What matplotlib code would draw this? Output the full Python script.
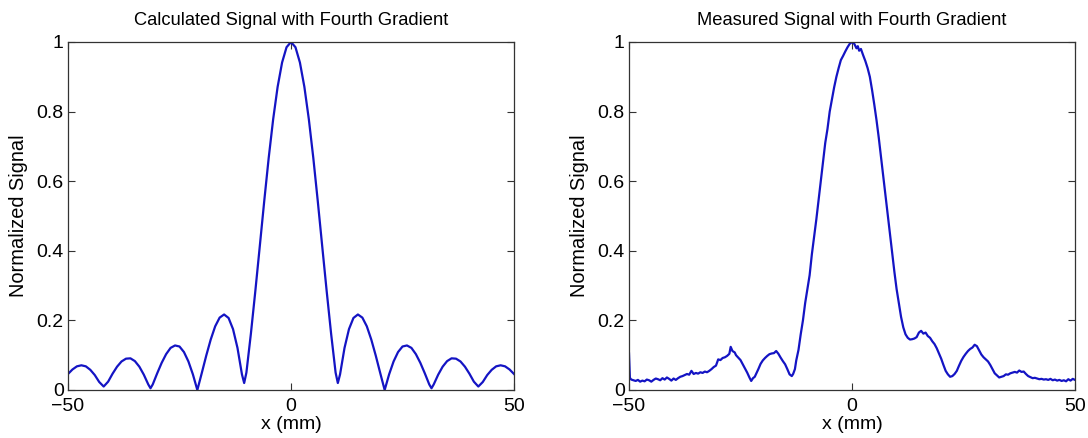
import matplotlib.pyplot as plt
from matplotlib.ticker import FormatStrFormatter

plt.rcParams['font.family'] = ['Liberation Sans', 'DejaVu Sans']

# Calculated profile (x in mm, normalized signal)
calc_x = [-50, -49, -48, -47, -46, -45, -44, -43, -42, -41, -40, -39, -38, -37, -36,
          -35, -34, -33, -32, -31.5, -31, -30, -29, -28, -27, -26, -25, -24, -23, -22,
          -21, -20, -19, -18, -17, -16, -15, -14, -13, -12, -11, -10.5, -10, -9, -8,
          -7, -6, -5, -4, -3, -2, -1, 0, 1, 2, 3, 4, 5, 6, 7, 8, 9, 10, 10.5, 11, 12,
          13, 14, 15, 16, 17, 18, 19, 20, 21, 22, 23, 24, 25, 26, 27, 28, 29, 30, 31,
          31.5, 32, 33, 34, 35, 36, 37, 38, 39, 40, 41, 42, 43, 44, 45, 46, 47, 48,
          49, 50]
calc_y = [0.046, 0.059, 0.068, 0.071, 0.068, 0.058, 0.043, 0.023, 0.010, 0.024,
          0.047, 0.067, 0.082, 0.090, 0.091, 0.083, 0.067, 0.044, 0.016, 0.005,
          0.016, 0.048, 0.078, 0.103, 0.121, 0.128, 0.125, 0.109, 0.082, 0.045,
          0.000, 0.049, 0.099, 0.145, 0.183, 0.208, 0.217, 0.207, 0.175, 0.121,
          0.045, 0.020, 0.050, 0.161, 0.284, 0.413, 0.543, 0.667, 0.778, 0.871,
          0.941, 0.985, 1.000, 0.985, 0.941, 0.871, 0.778, 0.667, 0.543, 0.413,
          0.284, 0.161, 0.050, 0.020, 0.045, 0.121, 0.175, 0.207, 0.217, 0.208,
          0.183, 0.145, 0.099, 0.049, 0.000, 0.045, 0.082, 0.109, 0.125, 0.128,
          0.121, 0.103, 0.078, 0.048, 0.016, 0.005, 0.016, 0.044, 0.067, 0.083,
          0.091, 0.090, 0.082, 0.067, 0.047, 0.024, 0.010, 0.023, 0.043, 0.058,
          0.068, 0.071, 0.068, 0.059, 0.046]

# Measured profile
meas_x = [-50.0, -49.8, -49.5, -49.0, -48.5, -48.0, -47.5, -47.0, -46.5, -46.0,
          -45.5, -45.0, -44.5, -44.0, -43.5, -43.0, -42.5, -42.0, -41.5, -41.0,
          -40.5, -40.0, -39.5, -39.0, -38.5, -38.0, -37.5, -37.0, -36.5, -36.0,
          -35.5, -35.0, -34.5, -34.0, -33.5, -33.0, -32.5, -32.0, -31.5, -31.0,
          -30.5, -30.0, -29.5, -29.0, -28.5, -28.0, -27.5, -27.2, -26.8, -26.3,
          -26.0, -25.5, -25.0, -24.5, -24.0, -23.5, -23.0, -22.6, -22.2, -21.8,
          -21.0, -20.5, -20.0, -19.5, -19.0, -18.5, -18.0, -17.5, -17.0, -16.5,
          -16.0, -15.5, -15.0, -14.5, -14.0, -13.5, -13.2, -12.8, -12.5, -12.0,
          -11.5, -11.0, -10.5, -10.0, -9.5, -9.0, -8.5, -8.0, -7.5, -7.0,
          -6.5, -6.0, -5.5, -5.0, -4.5, -4.0, -3.5, -3.0, -2.5, -2.0,
          -1.5, -1.0, -0.5, 0.0, 0.5, 1.0, 1.3, 1.6, 2.0, 2.5,
          3.0, 3.5, 4.0, 4.5, 5.0, 5.5, 6.0, 6.5, 7.0, 7.5,
          8.0, 8.5, 9.0, 9.5, 10.0, 10.5, 11.0, 11.5, 12.0, 12.5,
          13.0, 13.5, 14.0, 14.5, 15.0, 15.5, 16.0, 16.5, 17.0, 17.5,
          18.0, 18.5, 19.0, 19.5, 20.0, 20.5, 21.0, 21.5, 22.0, 22.5,
          23.0, 23.5, 24.0, 24.5, 25.0, 25.5, 26.0, 26.5, 27.0, 27.5,
          28.0, 28.5, 29.0, 29.5, 30.0, 30.5, 31.0, 31.5, 32.0, 32.5,
          33.0, 33.5, 34.0, 34.5, 35.0, 35.5, 36.0, 36.5, 37.0, 37.5,
          38.0, 38.5, 39.0, 39.5, 40.0, 40.5, 41.0, 41.5, 42.0, 42.5,
          43.0, 43.5, 44.0, 44.5, 45.0, 45.5, 46.0, 46.5, 47.0, 47.5,
          48.0, 48.5, 49.0, 49.5, 50.0]
meas_y = [0.105, 0.035, 0.030, 0.028, 0.026, 0.029, 0.024, 0.027, 0.025, 0.030,
          0.028, 0.024, 0.029, 0.033, 0.031, 0.028, 0.034, 0.030, 0.036, 0.032,
          0.027, 0.033, 0.029, 0.034, 0.038, 0.040, 0.043, 0.046, 0.044, 0.055,
          0.046, 0.049, 0.047, 0.051, 0.049, 0.053, 0.051, 0.055, 0.060, 0.066,
          0.070, 0.088, 0.086, 0.092, 0.094, 0.098, 0.104, 0.124, 0.112, 0.108,
          0.100, 0.093, 0.086, 0.074, 0.062, 0.050, 0.036, 0.026, 0.034, 0.038,
          0.060, 0.075, 0.085, 0.092, 0.098, 0.103, 0.105, 0.106, 0.112, 0.104,
          0.093, 0.083, 0.074, 0.060, 0.045, 0.040, 0.046, 0.060, 0.085, 0.115,
          0.160, 0.200, 0.250, 0.290, 0.330, 0.390, 0.440, 0.490, 0.545, 0.600,
          0.655, 0.710, 0.750, 0.800, 0.835, 0.870, 0.900, 0.925, 0.948, 0.960,
          0.973, 0.985, 0.995, 1.000, 0.995, 0.982, 0.988, 0.975, 0.980, 0.962,
          0.945, 0.925, 0.900, 0.862, 0.820, 0.775, 0.725, 0.670, 0.615, 0.560,
          0.505, 0.450, 0.395, 0.340, 0.290, 0.250, 0.210, 0.180, 0.160, 0.150,
          0.145, 0.146, 0.148, 0.152, 0.165, 0.170, 0.162, 0.165, 0.155, 0.150,
          0.140, 0.132, 0.120, 0.105, 0.090, 0.072, 0.055, 0.045, 0.038, 0.040,
          0.046, 0.055, 0.070, 0.084, 0.095, 0.104, 0.112, 0.118, 0.122, 0.130,
          0.126, 0.114, 0.102, 0.094, 0.088, 0.082, 0.072, 0.060, 0.048, 0.042,
          0.036, 0.038, 0.040, 0.045, 0.044, 0.048, 0.050, 0.052, 0.050, 0.056,
          0.052, 0.053, 0.046, 0.040, 0.037, 0.034, 0.035, 0.033, 0.031, 0.032,
          0.030, 0.031, 0.029, 0.032, 0.028, 0.030, 0.027, 0.029, 0.026, 0.028,
          0.025, 0.031, 0.027, 0.032, 0.029]

panels = [
    ('Calculated Signal with Fourth Gradient', calc_x, calc_y, 68),
    ('Measured Signal with Fourth Gradient', meas_x, meas_y, 629),
]

W, H = 1088, 438
fig = plt.figure(figsize=(W / 100, H / 100), dpi=100)

for title, xs, ys, left_px in panels:
    ax = fig.add_axes([left_px / W, (H - 390) / H, 446 / W, 348 / H])
    ax.plot(xs, ys, color='#1414c4', linewidth=1.6)
    ax.set_xlim(-50, 50)
    ax.set_ylim(0, 1)
    ax.set_xticks([-50, 0, 50])
    ax.set_yticks([0, 0.2, 0.4, 0.6, 0.8, 1.0])
    ax.yaxis.set_major_formatter(FormatStrFormatter('%g'))
    ax.tick_params(direction='in', top=True, right=True, length=5, width=0.8,
                   labelsize=14, color='#333333')
    ax.tick_params(axis='y', pad=3)
    ax.tick_params(axis='x', pad=6)
    for sp in ax.spines.values():
        sp.set_linewidth(0.9)
        sp.set_color('#333333')
    ax.set_title(title, fontsize=13.2, y=1.063, va='center', pad=0)
    ax.set_xlabel('x (mm)', fontsize=14, va='center')
    ax.xaxis.set_label_coords(0.5, -0.10)
    ax.set_ylabel('Normalized Signal', fontsize=14.4, va='center')
    ax.yaxis.set_label_coords(-0.111, 0.5)

fig.savefig('out.png', dpi=100)
